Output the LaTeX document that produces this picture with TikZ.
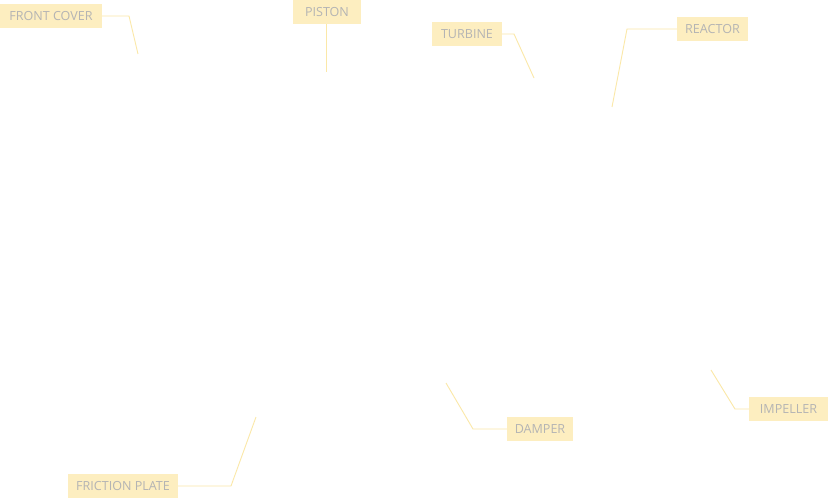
\documentclass[tikz,border=0pt]{standalone}
\usepackage{fontspec}
\setmainfont{Open Sans}
\definecolor{boxfill}{HTML}{FDEEC0}
\definecolor{lblgray}{HTML}{B4B4B4}
\definecolor{leader}{HTML}{FBE8A8}
\begin{document}
\begin{tikzpicture}[x=1bp,y=-1bp,
  lbl/.style={fill=boxfill,text=lblgray,font=\fontsize{12.6}{14}\selectfont,inner sep=0pt,minimum height=24bp,anchor=center},
  lead/.style={draw=leader,line width=0.9bp}]
\useasboundingbox[fill=white] (0,0) rectangle (828,498);
\node[lbl,minimum width=102bp] (front) at (51,16) {FRONT COVER};
\node[lbl,minimum width=68bp] (piston) at (327,12) {PISTON};
\node[lbl,minimum width=70bp] (turbine) at (467,34) {TURBINE};
\node[lbl,minimum width=71bp] (reactor) at (712.5,29) {REACTOR};
\node[lbl,minimum width=66bp] (damper) at (540,429) {DAMPER};
\node[lbl,minimum width=79bp] (impeller) at (788.5,409) {IMPELLER};
\node[lbl,minimum width=110bp] (friction) at (123,486) {FRICTION PLATE};
\coordinate (pfront) at (138,54);
\coordinate (ppiston) at (326,72);
\coordinate (pturbine) at (534,78);
\coordinate (preactor) at (612,107);
\coordinate (pdamper) at (446,383);
\coordinate (pimpeller) at (711,370);
\coordinate (pfriction) at (256,417);
\draw[lead] (front.east) -- (129,16) -- (pfront);
\draw[lead] (piston.south -| ppiston) -- (ppiston);
\draw[lead] (turbine.east) -- (514,34) -- (pturbine);
\draw[lead] (reactor.west) -- (627,29) -- (preactor);
\draw[lead] (damper.west) -- (473,429) -- (pdamper);
\draw[lead] (impeller.west) -- (735,409) -- (pimpeller);
\draw[lead] (friction.east) -- (231,486) -- (pfriction);
\end{tikzpicture}
\end{document}
